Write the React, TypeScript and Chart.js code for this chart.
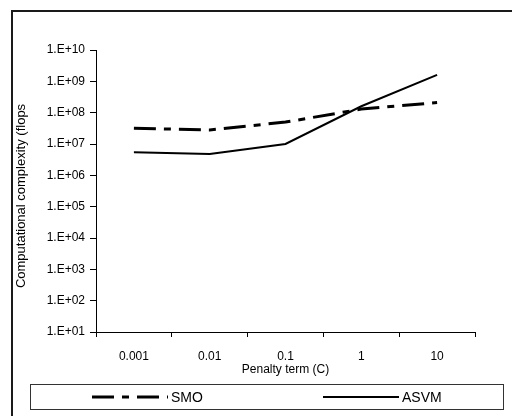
import React, { useEffect, useRef } from "react";
import { Chart, registerables } from "chart.js";

Chart.register(...registerables);

// Penalty term values on the category axis
const categories = ["0.001", "0.01", "0.1", "1", "10"];
// Computational complexity (flops) for each method
const smoValues = [3.2e7, 2.8e7, 5.0e7, 1.3e8, 2.1e8];
const asvmValues = [5.5e6, 4.8e6, 1.0e7, 1.6e8, 1.6e9];
// Decade ticks on the log axis
const yTickValues = [1e1, 1e2, 1e3, 1e4, 1e5, 1e6, 1e7, 1e8, 1e9, 1e10];

const FONT = "'Liberation Sans', Arial, sans-serif";
const SMO_DASH = [22, 8, 7, 8];

const frameAndLegend = {
  id: "frameAndLegend",
  beforeDraw(chart: any) {
    const ctx = chart.ctx as CanvasRenderingContext2D;
    ctx.save();
    ctx.fillStyle = "#ffffff";
    ctx.fillRect(0, 0, chart.width, chart.height);
    // outer frame running off the right and bottom edges
    ctx.fillStyle = "#1a1a1a";
    ctx.fillRect(11, 10, chart.width, 2);
    ctx.fillRect(11, 10, 2, chart.height);
    ctx.restore();
  },
  afterDraw(chart: any) {
    const ctx = chart.ctx as CanvasRenderingContext2D;
    const area = chart.chartArea;
    ctx.save();
    ctx.fillStyle = "#000";

    // y axis title
    ctx.font = `13px ${FONT}`;
    ctx.textAlign = "center";
    ctx.textBaseline = "middle";
    ctx.save();
    ctx.translate(21, (area.top + area.bottom) / 2 + 5);
    ctx.rotate(-Math.PI / 2);
    ctx.fillText("Computational complexity (flops", 0, 0);
    ctx.restore();

    // x axis title
    ctx.font = `12px ${FONT}`;
    ctx.fillText("Penalty term (C)", (area.left + area.right) / 2, 370);

    // legend box
    ctx.strokeStyle = "#333";
    ctx.lineWidth = 1;
    ctx.strokeRect(30.5, 384.5, 473, 25);

    const ly = 397;
    ctx.strokeStyle = "#000";
    ctx.lineWidth = 3;
    ctx.setLineDash(SMO_DASH);
    ctx.beginPath();
    ctx.moveTo(92, ly);
    ctx.lineTo(168, ly);
    ctx.stroke();

    ctx.lineWidth = 2;
    ctx.setLineDash([]);
    ctx.beginPath();
    ctx.moveTo(323, ly);
    ctx.lineTo(399, ly);
    ctx.stroke();

    ctx.font = `14px ${FONT}`;
    ctx.textAlign = "left";
    ctx.fillText(chart.data.datasets[0].label, 171, ly + 1);
    ctx.fillText(chart.data.datasets[1].label, 402, ly + 1);
    ctx.restore();
  },
};

export default function App() {
  const canvasRef = useRef<HTMLCanvasElement | null>(null);

  useEffect(() => {
    if (!canvasRef.current) return;
    const chart = new Chart(canvasRef.current, {
      type: "line",
      data: {
        labels: categories,
        datasets: [
          {
            label: "SMO",
            data: smoValues,
            borderColor: "#000",
            borderWidth: 3,
            borderDash: SMO_DASH,
            pointRadius: 0,
            tension: 0,
            fill: false,
          },
          {
            label: "ASVM",
            data: asvmValues,
            borderColor: "#000",
            borderWidth: 2,
            pointRadius: 0,
            tension: 0,
            fill: false,
          },
        ],
      },
      options: {
        responsive: false,
        animation: false,
        layout: { padding: { left: 0, top: 50, right: 37, bottom: 0 } },
        plugins: {
          legend: { display: false },
          tooltip: { enabled: false },
          title: { display: false },
        },
        scales: {
          x: {
            type: "category",
            offset: true,
            grid: {
              display: true,
              drawOnChartArea: false,
              offset: true,
              tickLength: 5,
              color: "#000",
            },
            border: { display: true, color: "#000", width: 1 },
            ticks: {
              color: "#000",
              font: { family: FONT, size: 12 },
              padding: 12,
              maxRotation: 0,
            },
            afterFit: (s: any) => {
              s.height = 84;
            },
          },
          y: {
            type: "logarithmic",
            min: 10,
            max: 1e10,
            grid: {
              display: true,
              drawOnChartArea: false,
              tickLength: 6,
              color: "#000",
            },
            border: { display: true, color: "#000", width: 1 },
            afterBuildTicks: (s: any) => {
              s.ticks = yTickValues.map((v) => ({ value: v }));
            },
            ticks: {
              color: "#000",
              font: { family: FONT, size: 12 },
              padding: 5,
              autoSkip: false,
              callback: (value: any) => {
                const e = Math.round(Math.log10(Number(value)));
                return "1.E+" + String(e).padStart(2, "0");
              },
            },
            afterFit: (s: any) => {
              s.width = 96;
            },
          },
        },
      },
      plugins: [frameAndLegend],
    });
    return () => chart.destroy();
  }, []);

  return (
    <div style={{ position: "absolute", left: 0, top: 0, width: 512, height: 416 }}>
      <canvas ref={canvasRef} width={512} height={416} />
    </div>
  );
}
